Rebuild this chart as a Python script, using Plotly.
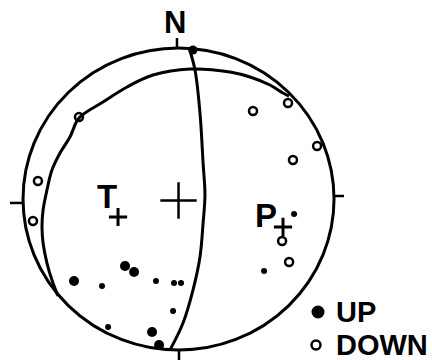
import plotly.graph_objects as go

# First-motion focal mechanism, lower-hemisphere projection.
# Coordinates are on the unit circle: x = east, y = north.

# compressional first motions (UP)
up_x = [0.093, -0.344, -0.286, -0.672, -0.492, -0.145, -0.029, 0.016,
        -0.035, -0.453, -0.170, -0.125, 0.743, 0.550]
up_y = [0.987, -0.444, -0.483, -0.543, -0.576, -0.543, -0.556, -0.556,
        -0.742, -0.848, -0.881, -0.967, -0.099, -0.477]
up_size = [9, 10, 10, 10, 6, 6, 6, 6, 6, 6, 10, 10, 6, 6]

# dilatational first motions (DOWN)
down_x = [-0.640, -0.904, -0.936, 0.479, 0.704, 0.891, 0.736, 0.666, 0.711]
down_y = [0.543, 0.119, -0.146, 0.583, 0.636, 0.351, 0.258, -0.278, -0.417]

# nodal planes
plane1_x = [0.068, 0.106, 0.138, 0.158, 0.170, 0.158, 0.138, 0.093, 0.029, -0.055]
plane1_y = [1.000, 0.854, 0.570, 0.238, 0.026, -0.159, -0.384, -0.603, -0.821, -1.000]

plane2_x = [0.711, 0.672, 0.588, 0.460, 0.331, 0.074, -0.164, -0.331, -0.486, -0.640,
            -0.698, -0.762, -0.814, -0.846, -0.871, -0.878, -0.871, -0.846, -0.814, -0.775]
plane2_y = [0.682, 0.702, 0.755, 0.808, 0.841, 0.861, 0.821, 0.742, 0.642, 0.536,
            0.411, 0.305, 0.192, 0.060, -0.073, -0.185, -0.291, -0.424, -0.536, -0.642]

# principal axes
axis_names = ["T", "P"]
axis_x = [-0.389, 0.672]
axis_y = [-0.119, -0.185]
axis_label_x = [-0.460, 0.563]
axis_label_y = [0.017, -0.106]

FONT = "Liberation Sans, Arial, sans-serif"

fig = go.Figure()

# nodal planes
for px, py in [(plane1_x, plane1_y), (plane2_x, plane2_y)]:
    fig.add_trace(go.Scatter(x=px, y=py, mode="lines",
                             line=dict(color="black", width=3, shape="spline", smoothing=1)))

# polarities
fig.add_trace(go.Scatter(x=up_x, y=up_y, mode="markers",
                         marker=dict(color="black", size=up_size, opacity=1,
                                     line=dict(width=0))))
fig.add_trace(go.Scatter(x=down_x, y=down_y, mode="markers",
                         marker=dict(symbol="circle-open", color="black", size=8,
                                     line=dict(color="black", width=2.5))))

# centre cross and T / P axes
fig.add_trace(go.Scatter(x=[0], y=[-0.01], mode="markers",
                         marker=dict(symbol="cross-thin", size=26, color="black",
                                     line=dict(color="black", width=2.5))))
fig.add_trace(go.Scatter(x=axis_x, y=axis_y, mode="markers",
                         marker=dict(symbol="cross-thin", size=13, color="black",
                                     line=dict(color="black", width=3))))

# legend symbols
fig.add_trace(go.Scatter(x=[0.897], y=[-0.748], mode="markers",
                         marker=dict(color="black", size=13)))
fig.add_trace(go.Scatter(x=[0.884], y=[-0.967], mode="markers",
                         marker=dict(symbol="circle-open", color="black", size=9,
                                     line=dict(color="black", width=2.5))))

# primitive circle and compass ticks
fig.add_shape(type="circle", x0=-1, x1=1, y0=-1, y1=1,
              line=dict(color="black", width=3))
ticks = [(-0.01, 1.0, -0.01, 1.066), (0.003, -1.0, 0.003, -1.066),
         (-1.0, -0.026, -1.084, -0.026), (1.0, 0.02, 1.064, 0.02)]
for x0, y0, x1, y1 in ticks:
    fig.add_shape(type="line", x0=x0, y0=y0, x1=x1, y1=y1,
                  line=dict(color="black", width=2.5))

# labels
fig.add_annotation(x=-0.023, y=1.166, text="<b>N</b>", showarrow=False,
                   font=dict(size=31, color="black", family=FONT))
for name, lx, ly in zip(axis_names, axis_label_x, axis_label_y):
    fig.add_annotation(x=lx, y=ly, text="<b>" + name + "</b>", showarrow=False,
                       font=dict(size=33, color="black", family=FONT))
fig.add_annotation(x=1.0, y=-0.745, text="<b>UP</b>", showarrow=False, xanchor="left",
                   font=dict(size=29, color="black", family=FONT))
fig.add_annotation(x=1.0, y=-0.967, text="<b>DOWN</b>", showarrow=False, xanchor="left",
                   font=dict(size=29, color="black", family=FONT))

fig.update_layout(width=432, height=360, margin=dict(l=0, r=0, t=0, b=0),
                  showlegend=False, plot_bgcolor="white", paper_bgcolor="white",
                  hovermode=False)
fig.update_xaxes(range=[-1.148, 1.630], visible=False)
fig.update_yaxes(range=[-1.066, 1.318], visible=False)

# drop the browser's default body margin so the figure sits at the window origin
fig.write_html("out.html", config={"displayModeBar": False},
               post_script="document.body.style.margin='0';")
